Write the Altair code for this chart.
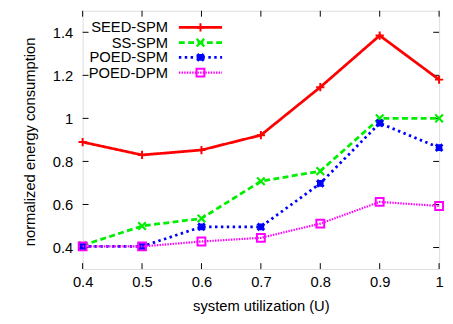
import altair as alt
import pandas as pd

# ---- data ----
utilization = [0.4, 0.5, 0.6, 0.7, 0.8, 0.9, 1.0]
series_names = ["SEED-SPM", "SS-SPM", "POED-SPM", "POED-DPM"]
seed_spm = [0.89, 0.83, 0.853, 0.922, 1.145, 1.385, 1.18]
ss_spm = [0.41, 0.50, 0.535, 0.708, 0.755, 1.0, 1.0]
poed_spm = [0.405, 0.405, 0.496, 0.496, 0.698, 0.978, 0.864]
poed_dpm = [0.405, 0.405, 0.428, 0.445, 0.511, 0.612, 0.593]
series_values = [seed_spm, ss_spm, poed_spm, poed_dpm]

x_ticks = [0.4, 0.5, 0.6, 0.7, 0.8, 0.9, 1.0]
y_ticks = [0.4, 0.6, 0.8, 1.0, 1.2, 1.4]
x_domain = [0.4, 1.0]
y_domain = [0.3, 1.5]

# ---- styles ----
W, H = 363, 263
FONT = "Liberation Sans"
colors = ["#ff0000", "#00ee00", "#0000ff", "#ff00ff"]
dashes = [[1, 0], [6, 3.5], [2.5, 3.5], [1.5, 1.2]]
widths = [2.8, 2.8, 2.8, 2.2]
plus = "M-1,0L1,0M0,-1L0,1"
cross = "M-1,-1L1,1M-1,1L1,-1"
star = "M-1,0L1,0M0,-1L0,1M-1,-1L1,1M-1,1L1,-1"
shapes = [plus, cross, star, "square"]
msizes = [70, 60, 45, 64]
mwidths = [2.0, 2.2, 3.0, 2.0]

xs = alt.Scale(domain=x_domain, nice=False, zero=False)
ys = alt.Scale(domain=y_domain, nice=False, zero=False)

layers = []

# axes (labels only) carried by an invisible layer
axis_df = pd.DataFrame({"x": x_domain, "y": y_domain})
axes = alt.Chart(axis_df).mark_point(opacity=0).encode(
    x=alt.X("x:Q", scale=xs, axis=alt.Axis(
        values=x_ticks, format="~g", title="system utilization (U)",
        grid=False, domain=False, ticks=False, tickSize=0, labelPadding=6,
        labelFlush=False, labelOverlap=False,
        labelFontSize=15, titleFontSize=15, titleFontWeight="normal",
        labelFont=FONT, titleFont=FONT, labelColor="black", titleColor="black",
        titleBaseline="alphabetic", titleY=42)),
    y=alt.Y("y:Q", scale=ys, axis=alt.Axis(
        values=y_ticks, format="~g", title="normalized energy consumption",
        grid=False, domain=False, ticks=False, tickSize=0, labelPadding=10,
        labelFlush=False, labelOverlap=False,
        labelFontSize=15, titleFontSize=15, titleFontWeight="normal",
        labelFont=FONT, titleFont=FONT, labelColor="black", titleColor="black",
        titleAngle=270, titleBaseline="alphabetic", titleX=-49, titleY=133)),
)
layers.append(axes)

# inward ticks on all four sides
xt = pd.DataFrame({"t": x_ticks})
yt = pd.DataFrame({"t": y_ticks})
for (a, b) in [(H, H - 6), (0, 6)]:
    layers.append(alt.Chart(xt).mark_rule(color="black", strokeWidth=1).encode(
        x=alt.X("t:Q", scale=xs), y=alt.value(a), y2=alt.value(b)))
for (a, b) in [(0, 6), (W - 6, W)]:
    layers.append(alt.Chart(yt).mark_rule(color="black", strokeWidth=1).encode(
        y=alt.Y("t:Q", scale=ys), x=alt.value(a), x2=alt.value(b)))

# data series
for i, name in enumerate(series_names):
    df = pd.DataFrame({"u": utilization, "v": series_values[i]})
    base = alt.Chart(df).encode(x=alt.X("u:Q", scale=xs), y=alt.Y("v:Q", scale=ys))
    layers.append(base.mark_line(color=colors[i], strokeWidth=widths[i],
                                 strokeDash=dashes[i]))
    layers.append(base.mark_point(shape=shapes[i], size=msizes[i], filled=False,
                                  color=colors[i], strokeWidth=mwidths[i], opacity=1))

# legend (top-left, gnuplot style: label then sample)
row_y = [17, 32.5, 47.5, 63]
for i, name in enumerate(series_names):
    ldf = pd.DataFrame({"label": [name]})
    lc = alt.Chart(ldf)
    layers.append(lc.mark_text(align="right", baseline="middle", font=FONT,
                               fontSize=15, color="black").encode(
        text="label:N", x=alt.value(87), y=alt.value(row_y[i])))
    layers.append(lc.mark_rule(color=colors[i], strokeWidth=widths[i],
                               strokeDash=dashes[i]).encode(
        x=alt.value(98), x2=alt.value(142), y=alt.value(row_y[i])))
    layers.append(lc.mark_point(shape=shapes[i], size=msizes[i], filled=False,
                                color=colors[i], strokeWidth=mwidths[i], opacity=1).encode(
        x=alt.value(120), y=alt.value(row_y[i])))

chart = alt.layer(*layers).properties(
    width=W, height=H,
    autosize=alt.AutoSizeParams(type="none"),
    padding={"left": 76, "top": 0, "right": 6, "bottom": 45},
).configure_view(stroke="black", strokeWidth=1.2).configure(background="white")

chart.save("out.html", embed_options={"renderer": "svg", "actions": False})
